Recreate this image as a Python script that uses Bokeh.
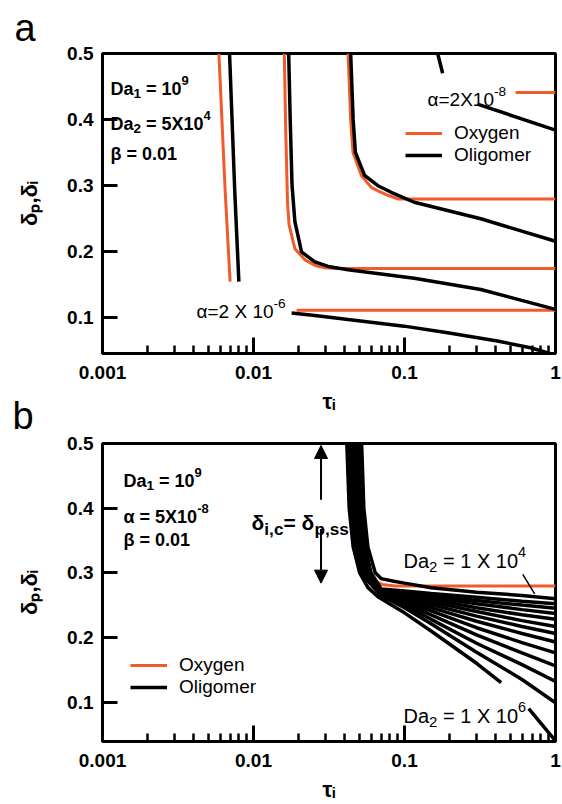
import math
from bokeh.plotting import figure
from bokeh.models import (FixedTicker, CustomJSTickFormatter, Label, Legend,
                          LegendItem, Arrow, NormalHead)
from bokeh.layouts import column
from bokeh.embed import file_html
from bokeh.resources import INLINE

nan = float("nan")

# ---------------- axes ----------------
x_ticks = [0.001, 0.01, 0.1, 1]
y_ticks = [0.1, 0.2, 0.3, 0.4, 0.5]

# ---------------- panel a data (tau_i, delta) ----------------
# alpha = 2e-6 (upper branch)
a_ox1_tau = [0.0059, 0.0065, 0.0070]
a_ox1_delta = [0.50, 0.289, 0.154]
a_ol1_tau = [0.00694, 0.00752, 0.0080]
a_ol1_delta = [0.50, 0.289, 0.154]
# middle pair
a_ox2_tau = [0.0160, 0.0163, 0.0168, 0.0172, 0.0188, 0.0219, 0.0260, 0.0297, 0.0363, 1.0]
a_ox2_delta = [0.50, 0.395, 0.274, 0.240, 0.204, 0.187, 0.178, 0.175, 0.174, 0.174]
a_ol2_tau = [0.0171, 0.0175, 0.0180, 0.0188, 0.0208, 0.0255, 0.0312, 0.0423, 0.116, 0.320, 1.0]
a_ol2_delta = [0.50, 0.40, 0.30, 0.245, 0.199, 0.184, 0.177, 0.172, 0.159, 0.142, 0.112]
# right pair
a_ox3_tau = [0.0423, 0.0440, 0.0456, 0.0518, 0.0602, 0.0690, 0.0776, 0.0903, 1.0]
a_ox3_delta = [0.50, 0.40, 0.35, 0.315, 0.297, 0.290, 0.285, 0.2795, 0.2795]
a_ol3_tau = [0.0440, 0.0457, 0.0473, 0.0544, 0.0667, 0.0816, 0.116, 0.320, 1.0]
a_ol3_delta = [0.50, 0.40, 0.35, 0.315, 0.2995, 0.2895, 0.2744, 0.2493, 0.2153]
# alpha = 2e-8
a_ox4_tau = [0.544, 1.0]
a_ox4_delta = [0.441, 0.441]
a_ol4_tau = [0.1658, 0.1789, nan, 0.304, 1.0]
a_ol4_delta = [0.50, 0.47, nan, 0.4233, 0.3837]
# alpha = 2e-6 (lower branch)
a_ox5_tau = [0.0193, 1.0]
a_ox5_delta = [0.1105, 0.1105]
a_ol5_tau = [0.01788, 0.02547, 0.0423, 0.0994, 0.193, 0.412, 0.683, 0.926]
a_ol5_delta = [0.1065, 0.1026, 0.0965, 0.0865, 0.0764, 0.0639, 0.0538, 0.0448]

# ---------------- panel b data ----------------
b_ox_tau = [0.0465, 0.0480, 0.0500, 0.0551, 0.0609, 0.0709, 0.0869, 1.0]
b_ox_delta = [0.50, 0.40, 0.35, 0.305, 0.290, 0.282, 0.2795, 0.2795]

# oligomer, Da2 from 1e4 (first) to 1e6 (last)
b_ol01_tau = [0.0520, 0.0538, 0.0572, 0.0640, 0.070, 0.085, 0.10, 0.15, 0.30, 0.60, 1.0]
b_ol01_delta = [0.50, 0.40, 0.34, 0.300, 0.291, 0.287, 0.284, 0.277, 0.270, 0.265, 0.260]
b_ol02_tau = [0.0500, 0.0518, 0.0550, 0.0600, 0.07, 0.10, 0.15, 0.30, 0.60, 1.0]
b_ol02_delta = [0.50, 0.40, 0.34, 0.30, 0.275, 0.272, 0.268, 0.262, 0.256, 0.252]
b_ol03_tau = [0.0492, 0.0509, 0.0541, 0.0590, 0.07, 0.10, 0.15, 0.30, 0.60, 1.0]
b_ol03_delta = [0.50, 0.40, 0.34, 0.30, 0.274, 0.270, 0.265, 0.257, 0.250, 0.245]
b_ol04_tau = [0.0484, 0.0501, 0.0532, 0.0581, 0.07, 0.10, 0.15, 0.30, 0.60, 1.0]
b_ol04_delta = [0.50, 0.40, 0.34, 0.30, 0.273, 0.268, 0.262, 0.252, 0.243, 0.237]
b_ol05_tau = [0.0476, 0.0493, 0.0524, 0.0571, 0.07, 0.10, 0.15, 0.30, 0.60, 1.0]
b_ol05_delta = [0.50, 0.40, 0.34, 0.30, 0.272, 0.266, 0.259, 0.246, 0.235, 0.228]
b_ol06_tau = [0.0468, 0.0484, 0.0515, 0.0562, 0.07, 0.10, 0.15, 0.30, 0.60, 1.0]
b_ol06_delta = [0.50, 0.40, 0.34, 0.30, 0.271, 0.264, 0.255, 0.240, 0.226, 0.217]
b_ol07_tau = [0.0460, 0.0476, 0.0506, 0.0552, 0.07, 0.10, 0.15, 0.30, 0.60, 1.0]
b_ol07_delta = [0.50, 0.40, 0.34, 0.30, 0.270, 0.262, 0.251, 0.233, 0.217, 0.206]
b_ol08_tau = [0.0452, 0.0468, 0.0497, 0.0542, 0.07, 0.10, 0.15, 0.30, 0.60, 1.0]
b_ol08_delta = [0.50, 0.40, 0.34, 0.30, 0.269, 0.259, 0.246, 0.225, 0.206, 0.193]
b_ol09_tau = [0.0445, 0.0461, 0.0490, 0.0534, 0.07, 0.10, 0.15, 0.30, 0.60, 1.0]
b_ol09_delta = [0.50, 0.40, 0.34, 0.30, 0.268, 0.256, 0.241, 0.215, 0.192, 0.176]
b_ol10_tau = [0.0438, 0.0453, 0.0482, 0.0526, 0.07, 0.10, 0.15, 0.30, 0.60, 1.0]
b_ol10_delta = [0.50, 0.40, 0.34, 0.30, 0.267, 0.253, 0.235, 0.204, 0.176, 0.156]
b_ol11_tau = [0.0431, 0.0446, 0.0474, 0.0517, 0.07, 0.10, 0.15, 0.30, 0.60, 1.0]
b_ol11_delta = [0.50, 0.40, 0.34, 0.30, 0.266, 0.250, 0.228, 0.191, 0.158, 0.132]
b_ol12_tau = [0.0424, 0.0439, 0.0466, 0.0509, 0.07, 0.10, 0.15, 0.30, 0.60, 1.0]
b_ol12_delta = [0.50, 0.40, 0.34, 0.30, 0.265, 0.246, 0.221, 0.177, 0.135, 0.099]
b_ol13_tau = [0.0415, 0.0430, 0.0457, 0.0505, 0.0573, 0.0675, 0.10, 0.15, 0.30, 0.4366, nan, 0.665, 1.0]
b_ol13_delta = [0.50, 0.40, 0.34, 0.30, 0.277, 0.262, 0.238, 0.210, 0.160, 0.130, nan, 0.090, 0.040]

b_oligomer = [
    (b_ol01_tau, b_ol01_delta), (b_ol02_tau, b_ol02_delta), (b_ol03_tau, b_ol03_delta),
    (b_ol04_tau, b_ol04_delta), (b_ol05_tau, b_ol05_delta), (b_ol06_tau, b_ol06_delta),
    (b_ol07_tau, b_ol07_delta), (b_ol08_tau, b_ol08_delta), (b_ol09_tau, b_ol09_delta),
    (b_ol10_tau, b_ol10_delta), (b_ol11_tau, b_ol11_delta), (b_ol12_tau, b_ol12_delta),
    (b_ol13_tau, b_ol13_delta),
]

# annotation pointers (panel b)
ptr_1e4_tau = [0.607, 0.728]
ptr_1e4_delta = [0.2977, 0.2673]
arrow_tau = 0.028
arrow_up_delta = [0.413, 0.497]
arrow_down_delta = [0.3677, 0.284]

# ---------------- styling ----------------
RED = "#f15a29"
FONT = "Liberation Sans"
W_OX = 3.0
W_OL = 3.5

REG = {' ': 278, '=': 584, 'X': 667, 'D': 722, 'a': 556, '-': 333, ',': 278, '.': 278,
       'α': 578, 'β': 575, 'δ': 556, 'τ': 430, 'i': 222, 'c': 500, 'p': 556, 's': 500, 'b': 556}
BOLD = {' ': 278, '=': 584, 'X': 667, 'D': 722, 'a': 556, '-': 333, ',': 278, '.': 278,
        'α': 620, 'β': 611, 'δ': 611, 'τ': 480, 'i': 278, 'c': 556, 'p': 611, 's': 556}


def text_width(s, size, bold):
    tab = BOLD if bold else REG
    return sum(tab.get(ch, 556) for ch in s) * size / 1000.0


def rich(p, frame, x0, y0, parts, size, bold=False, sub_scale=0.75):
    """Text made of normal / sub / sup parts; (x0, y0) = canvas px of the start baseline."""
    fx, fy = frame
    adv = 0.0
    for text, kind in parts:
        if kind == "n":
            fs, dy = size, 0.0
        elif kind == "sub":
            fs, dy = size * sub_scale, -size * 0.30
        else:
            fs, dy = size * 0.72, size * 0.42
        lead = len(text) - len(text.lstrip(" "))
        adv += text_width(" " * lead, fs, bold)
        core = text.strip(" ")
        p.add_layout(Label(x=p.x_range.start, y=p.y_range.end,
                           x_offset=x0 - fx + adv, y_offset=fy - y0 + dy,
                           text=core, text_font=FONT,
                           text_font_size="%.1fpx" % fs,
                           text_font_style="bold" if bold else "normal",
                           text_color="black", text_align="left",
                           text_baseline="alphabetic"))
        adv += text_width(text.lstrip(" "), fs, bold)


def make_fig(height, y_start, left, right, top, bottom, letter, letter_standoff):
    p = figure(width=562, height=height, x_axis_type="log", x_range=(0.001, 1),
               y_range=(y_start, 0.5), output_backend="svg", toolbar_location=None,
               min_border_left=left, min_border_right=right, min_border_top=top,
               min_border_bottom=bottom)
    p.xgrid.visible = False
    p.ygrid.visible = False
    p.outline_line_color = "black"
    p.outline_line_width = 3
    p.background_fill_color = "white"
    minors = [m * 10.0 ** e for e in (-3, -2, -1) for m in range(2, 10)]
    p.xaxis.ticker = FixedTicker(ticks=x_ticks, minor_ticks=minors)
    p.yaxis.ticker = FixedTicker(ticks=y_ticks)
    fmt = "return String(tick);"
    p.xaxis.formatter = CustomJSTickFormatter(code=fmt)
    p.yaxis.formatter = CustomJSTickFormatter(code=fmt)
    for ax in (p.xaxis, p.yaxis):
        ax.axis_line_width = 3
        ax.major_tick_line_width = 3
        ax.minor_tick_line_width = 2.5
        ax.major_tick_out = 0
        ax.minor_tick_out = 0
        ax.major_label_text_font = FONT
        ax.major_label_text_font_size = "19px"
        ax.major_label_text_font_style = "bold"
        ax.major_label_text_color = "black"
        ax.axis_label_text_font = FONT
        ax.axis_label_text_font_size = "22px"
        ax.axis_label_text_font_style = "bold"
        ax.axis_label_text_color = "black"
    p.xaxis.major_tick_in = 16
    p.xaxis.minor_tick_in = 8
    p.yaxis.major_tick_in = 15
    p.yaxis.minor_tick_in = 0
    p.xaxis.major_label_standoff = 12
    p.yaxis.major_label_standoff = 9
    p.xaxis.axis_label = "τᵢ"
    p.yaxis.axis_label = "δₚ,δᵢ"
    p.xaxis.axis_label_standoff = 7
    p.yaxis.axis_label_standoff = 22
    p.title.text = letter
    p.title.align = "left"
    p.title.offset = -(left - 12)
    p.title.text_font = FONT
    p.title.text_font_size = "38px"
    p.title.text_font_style = "normal"
    p.title.text_color = "black"
    p.title.standoff = letter_standoff
    return p


def add_legend(p, red_r, black_r, loc):
    leg = Legend(items=[LegendItem(label="Oxygen", renderers=[red_r]),
                        LegendItem(label="Oligomer", renderers=[black_r])],
                 location=loc, padding=0, margin=0, spacing=0, border_line_color=None,
                 background_fill_alpha=0, glyph_width=37, glyph_height=20, label_height=20,
                 label_standoff=12, label_text_font=FONT, label_text_font_size="19px",
                 label_text_color="black")
    p.add_layout(leg)


# ================= panel a =================
pa = make_fig(420, 0.045, 100, 7, 50, 67, "a", 9)
pa.border_fill_color = "white"
FA = (100, 50)
for t, d in [(a_ox1_tau, a_ox1_delta), (a_ox2_tau, a_ox2_delta), (a_ox3_tau, a_ox3_delta),
             (a_ox4_tau, a_ox4_delta), (a_ox5_tau, a_ox5_delta)]:
    rr = pa.line(t, d, line_color=RED, line_width=W_OX)
red_a = rr
for t, d in [(a_ol1_tau, a_ol1_delta), (a_ol2_tau, a_ol2_delta), (a_ol3_tau, a_ol3_delta),
             (a_ol4_tau, a_ol4_delta), (a_ol5_tau, a_ol5_delta)]:
    rb = pa.line(t, d, line_color="black", line_width=W_OL)
black_a = rb
add_legend(pa, red_a, black_a, (303, 187))

rich(pa, FA, 108, 85, [("Da", "n"), ("1", "sub"), (" = 10", "n"), ("9", "sup")], 18, bold=True)
rich(pa, FA, 108, 120, [("Da", "n"), ("2", "sub"), (" = 5X10", "n"), ("4", "sup")], 18, bold=True)
rich(pa, FA, 108, 150, [("β = 0.01", "n")], 18, bold=True)
rich(pa, FA, 425, 96, [("α=2X10", "n"), ("-8", "sup")], 19)
rich(pa, FA, 194, 308, [("α=2 X 10", "n"), ("-6", "sup")], 19)

# ================= panel b =================
# figure b starts 35 px higher so that its "b" sits beside panel a's axis title
pb = make_fig(419, 0.039, 102, 4, 55, 61, "b", 14)
pb.margin = (-35, 0, 0, 0)
pb.border_fill_color = None
FB = (102, 440)
red_b = pb.line(b_ox_tau, b_ox_delta, line_color=RED, line_width=W_OX)
for t, d in b_oligomer:
    black_b = pb.line(t, d, line_color="black", line_width=W_OL)
pb.line(ptr_1e4_tau, ptr_1e4_delta, line_color="black", line_width=1.5)
add_legend(pb, red_b, black_b, (28, 43))

pb.add_layout(Arrow(end=NormalHead(size=13, fill_color="black", line_color="black"),
                    x_start=arrow_tau, y_start=arrow_up_delta[0],
                    x_end=arrow_tau, y_end=arrow_up_delta[1], line_width=2))
pb.add_layout(Arrow(end=NormalHead(size=13, fill_color="black", line_color="black"),
                    x_start=arrow_tau, y_start=arrow_down_delta[0],
                    x_end=arrow_tau, y_end=arrow_down_delta[1], line_width=2))

rich(pb, FB, 123, 477, [("Da", "n"), ("1", "sub"), (" = 10", "n"), ("9", "sup")], 18, bold=True)
rich(pb, FB, 123, 513, [("α = 5X10", "n"), ("-8", "sup")], 18, bold=True)
rich(pb, FB, 123, 536, [("β = 0.01", "n")], 18, bold=True)
rich(pb, FB, 251, 519, [("δ", "n"), ("i,c", "sub"), ("= δ", "n"), ("p,ss", "sub")], 21,
     bold=True, sub_scale=0.82)
rich(pb, FB, 403, 557, [("Da", "n"), ("2", "sub"), (" = 1 X 10", "n"), ("4", "sup")], 20)
rich(pb, FB, 403, 712, [("Da", "n"), ("2", "sub"), (" = 1 X 10", "n"), ("6", "sup")], 20)

layout = column(pa, pb)
open("out.html", "w").write(file_html(layout, INLINE))
